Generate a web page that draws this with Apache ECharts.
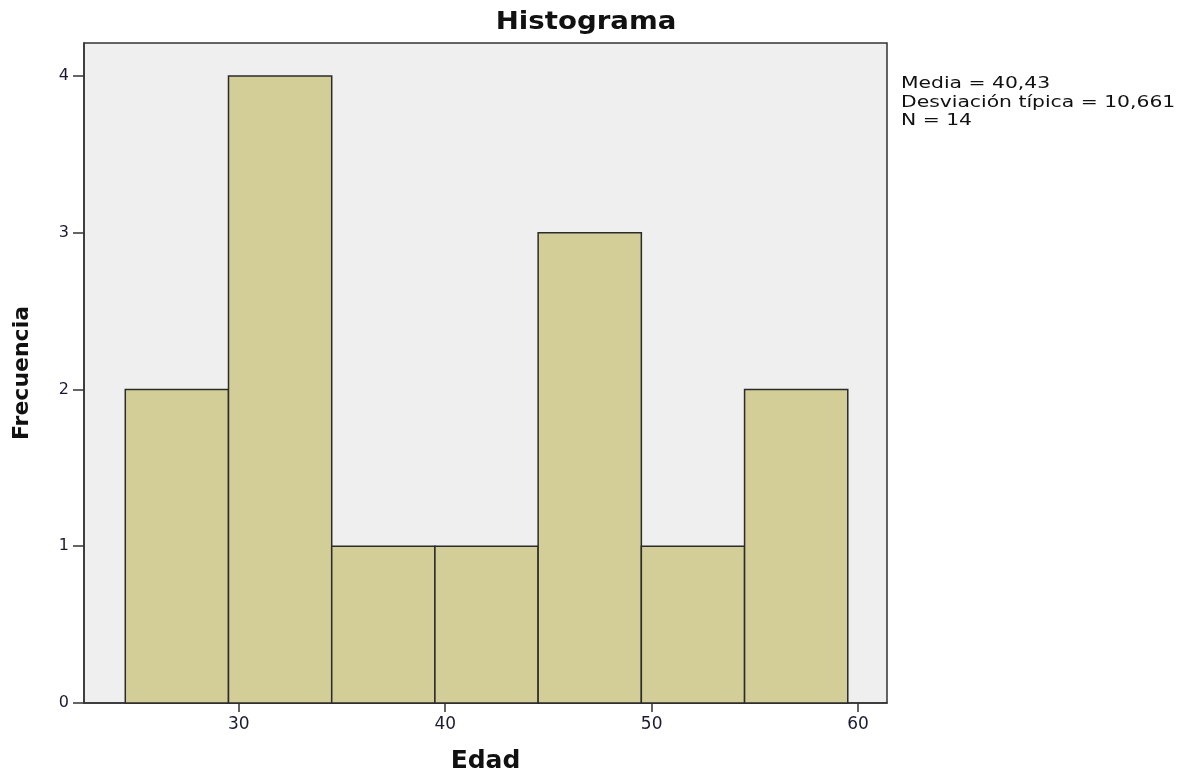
<!DOCTYPE html>
<html lang="es">
<head>
    <meta charset="utf-8">
    <title>Histograma</title>
    <script src="https://cdn.jsdelivr.net/npm/echarts@6/dist/echarts.min.js"></script>
    <style type="text/css">
        html, body { margin: 0; padding: 0; background: #fff; }
        #main { width: 1191px; height: 772px; }
    </style>
</head>
<body>
    <div id="main"></div>
    <script type="text/javascript">
        // bins of width 5, starting points and counts
        var binStarts = [24.5, 29.5, 34.5, 39.5, 44.5, 49.5, 54.5];
        var binWidth = 5;
        var counts = [2, 4, 1, 1, 3, 1, 2];
        var xTicks = [30, 40, 50, 60];
        var yTicks = [0, 1, 2, 3, 4];
        var statLines = ['Media = 40,43', 'Desviación típica = 10,661', 'N = 14'];

        var bins = binStarts.map(function (s, i) {
            return [s, s + binWidth, counts[i]];
        });

        var font = '"DejaVu Sans", Verdana, sans-serif';
        var myChart = echarts.init(document.getElementById('main'));

        var option = {
            backgroundColor: '#ffffff',
            animation: false,
            // the source picture is stretched sideways, so texts get a scaleX
            graphic: [{
                type: 'text',
                x: 586,
                y: 11,
                scaleX: 1.15,
                style: {
                    text: 'Histograma',
                    textAlign: 'center',
                    font: 'bold 24px ' + font,
                    fill: '#111'
                }
            }, {
                type: 'text',
                x: 901,
                y: 75,
                scaleX: 1.27,
                style: {
                    text: statLines.join('\n'),
                    font: '16px ' + font,
                    lineHeight: 18.5,
                    fill: '#111'
                }
            }],
            grid: {
                left: 84, top: 43, right: 304, bottom: 69,
                outerBoundsMode: 'none',
                containLabel: false,
                show: true,
                backgroundColor: '#efefef',
                borderColor: '#333',
                borderWidth: 1.5
            },
            xAxis: {
                type: 'value',
                min: 22.5,
                max: 61.4,
                name: 'Edad',
                nameLocation: 'middle',
                nameGap: 46,
                nameTextStyle: { fontFamily: font, fontSize: 25, fontWeight: 'bold', color: '#111' },
                axisLine: { show: true, onZero: false, lineStyle: { color: '#333', width: 1.5 } },
                axisTick: { show: true, customValues: xTicks, length: 9, lineStyle: { color: '#333', width: 1.5 } },
                axisLabel: { customValues: xTicks, margin: 13, fontFamily: font, fontSize: 17, color: '#1a1a33' },
                splitLine: { show: false }
            },
            yAxis: {
                type: 'value',
                min: 0,
                max: 4.21,
                name: 'Frecuencia',
                nameLocation: 'middle',
                nameGap: 51,
                nameTextStyle: { fontFamily: font, fontSize: 22, fontWeight: 'bold', color: '#111' },
                axisLine: { show: true, lineStyle: { color: '#333', width: 1.5 } },
                axisTick: { show: true, customValues: yTicks, length: 11, lineStyle: { color: '#333', width: 1.5 } },
                axisLabel: { customValues: yTicks, margin: 15, fontFamily: font, fontSize: 16, color: '#1a1a33' },
                splitLine: { show: false }
            },
            series: [{
                type: 'custom',
                data: bins,
                encode: { x: [0, 1], y: 2 },
                renderItem: function (params, api) {
                    var p0 = api.coord([api.value(0), 0]);
                    var p1 = api.coord([api.value(1), api.value(2)]);
                    return {
                        type: 'rect',
                        shape: { x: p0[0], y: p1[1], width: p1[0] - p0[0], height: p0[1] - p1[1] },
                        style: { fill: '#d3ce98', stroke: '#2b2b2b', lineWidth: 1.5 }
                    };
                }
            }]
        };
        myChart.setOption(option);
    </script>
</body>
</html>
